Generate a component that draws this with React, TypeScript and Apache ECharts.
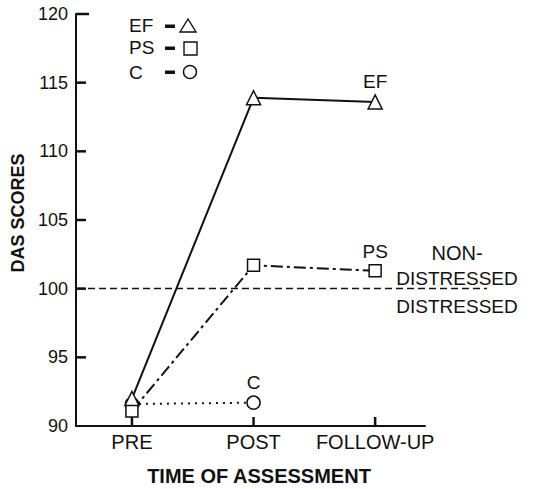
import React, { useEffect, useRef } from "react";
import * as echarts from "echarts";

const categories = ["PRE", "POST", "FOLLOW-UP"];
const xPositions = [0, 1, 2];
const efValues = [92.0, 113.9, 113.6];
const psValues = [91.1, 101.7, 101.3];
const cValues = [91.6, 91.7];
const yTicks = [90, 95, 100, 105, 110, 115, 120];
const threshold = 100;

const FONT = "'Liberation Sans', Arial, Helvetica, sans-serif";
const INK = "#111";
const W = 533;
const H = 489;
const GRID = { left: 76, top: 14, right: 108, bottom: 63 };
const X_MIN = -0.46;
const X_MAX = 2.41;
const Y_TICK_LEN = 10;
const X_TICK_LEN = 9;

export default function App() {
  const ref = useRef<HTMLDivElement>(null);
  useEffect(() => {
    if (!ref.current) return;
    const chart = echarts.init(ref.current, undefined, { renderer: "svg" });
    const pts = (vals: number[], labelIdx: number, label: string) =>
      vals.map((v, i) => ({
        value: [xPositions[i], v],
        label:
          i === labelIdx
            ? { show: true, position: "top", distance: 3, formatter: label, color: INK, fontSize: 19, fontFamily: FONT }
            : { show: false },
      }));
    const markerStyle = { color: "#fff", borderColor: INK, borderWidth: 1.5 };
    const txt = (text: string, x: number, y: number, size: number, extra: any = {}) => ({
      type: "text",
      x,
      y,
      style: { text, fontSize: size, fill: INK, fontFamily: FONT, verticalAlign: "middle", ...extra },
    });
    const yMin = yTicks[0];
    const yMax = yTicks[yTicks.length - 1];
    const plotW = W - GRID.left - GRID.right;
    const plotH = H - GRID.top - GRID.bottom;
    const toPx = (xv: number, yv: number): number[] => {
      let p: any = null;
      try {
        p = chart.convertToPixel({ xAxisIndex: 0, yAxisIndex: 0 } as any, [xv, yv]);
      } catch (e) {
        p = null;
      }
      if (!p || !isFinite(p[0]) || !isFinite(p[1])) {
        p = [
          GRID.left + ((xv - X_MIN) / (X_MAX - X_MIN)) * plotW,
          GRID.top + ((yMax - yv) / (yMax - yMin)) * plotH,
        ];
      }
      return p;
    };
    const baseGraphic: any[] = [
      txt("EF", 129, 25, 19),
      txt("PS", 129, 47, 19),
      txt("C", 129, 72, 19),
      { type: "rect", shape: { x: 165, y: 24.5, width: 10, height: 3.5 }, style: { fill: INK } },
      { type: "rect", shape: { x: 165, y: 46.5, width: 10, height: 3.5 }, style: { fill: INK } },
      { type: "rect", shape: { x: 165, y: 70.5, width: 10, height: 3.5 }, style: { fill: INK } },
      {
        type: "polygon",
        shape: { points: [[188, 19], [180, 32], [196, 32]] },
        style: { fill: "#fff", stroke: INK, lineWidth: 1.4 },
      },
      { type: "rect", shape: { x: 184, y: 42, width: 13, height: 13 }, style: { fill: "#fff", stroke: INK, lineWidth: 1.4 } },
      { type: "circle", shape: { cx: 190, cy: 72, r: 6.5 }, style: { fill: "#fff", stroke: INK, lineWidth: 1.4 } },
      txt("NON-", 457, 253, 20, { align: "center" }),
      txt("DISTRESSED", 457, 278, 19, { align: "center" }),
      txt("DISTRESSED", 457, 306, 19, { align: "center" }),
      txt("TIME OF ASSESSMENT", 259, 476, 20, { align: "center", fontWeight: "bold" }),
      {
        type: "text",
        x: 18,
        y: 213,
        rotation: Math.PI / 2,
        style: {
          text: "DAS SCORES",
          fontSize: 18,
          fontWeight: "bold",
          fill: INK,
          fontFamily: FONT,
          align: "center",
          verticalAlign: "middle",
        },
      },
    ];
    chart.setOption({
      animation: false,
      backgroundColor: "#fff",
      grid: GRID,
      xAxis: {
        type: "value",
        min: X_MIN,
        max: X_MAX,
        splitLine: { show: false },
        axisLine: { show: true, onZero: false, lineStyle: { color: INK, width: 2 } },
        axisTick: { show: false },
        axisLabel: {
          customValues: xPositions,
          formatter: (v: number) => categories[Math.round(v)] ?? "",
          fontSize: 20,
          color: INK,
          fontFamily: FONT,
          margin: 6,
        },
      },
      yAxis: {
        type: "value",
        min: yMin,
        max: yMax,
        interval: 5,
        splitLine: { show: false },
        axisLine: { show: true, onZero: false, lineStyle: { color: INK, width: 2 } },
        axisTick: { show: false },
        axisLabel: { fontSize: 18, color: INK, fontFamily: FONT, margin: 8 },
      },
      graphic: baseGraphic,
      series: [
        {
          name: "C",
          type: "line",
          z: 2,
          data: pts(cValues, 1, "C"),
          symbol: "circle",
          symbolSize: 13,
          showAllSymbol: true,
          itemStyle: markerStyle,
          lineStyle: { color: INK, width: 2, type: [2, 5] },
          markLine: {
            silent: true,
            symbol: "none",
            label: { show: false },
            lineStyle: { color: INK, width: 1.3, type: [7, 4] },
            data: [[{ yAxis: threshold, x: GRID.left + 1 }, { yAxis: threshold, x: 487 }]],
          },
        },
        {
          name: "PS",
          type: "line",
          z: 3,
          data: pts(psValues, 2, "PS"),
          symbol: "rect",
          symbolSize: 12,
          showAllSymbol: true,
          itemStyle: markerStyle,
          lineStyle: { color: INK, width: 2, type: [12, 4, 3, 4] },
        },
        {
          name: "EF",
          type: "line",
          z: 4,
          data: pts(efValues, 2, "EF"),
          symbol: "triangle",
          symbolSize: 14,
          showAllSymbol: true,
          itemStyle: markerStyle,
          lineStyle: { color: INK, width: 2 },
        },
      ],
    });
    const tickGraphic: any[] = [];
    yTicks.slice(1).forEach((v, i) => {
      const p = toPx(X_MIN, v);
      const len = i === yTicks.length - 2 ? Y_TICK_LEN + 3 : Y_TICK_LEN;
      tickGraphic.push({
        type: "rect",
        z: 100,
        shape: { x: p[0], y: p[1] - 1.25, width: len, height: 2.5 },
        style: { fill: INK },
      });
    });
    xPositions.forEach((xv) => {
      const p = toPx(xv, yMin);
      tickGraphic.push({
        type: "rect",
        z: 100,
        shape: { x: p[0] - 1.25, y: p[1] - X_TICK_LEN, width: 2.5, height: X_TICK_LEN },
        style: { fill: INK },
      });
    });
    chart.setOption({ graphic: [...baseGraphic, ...tickGraphic] });
    return () => chart.dispose();
  }, []);
  return <div ref={ref} style={{ position: "fixed", left: 0, top: 0, width: W, height: H }} />;
}
